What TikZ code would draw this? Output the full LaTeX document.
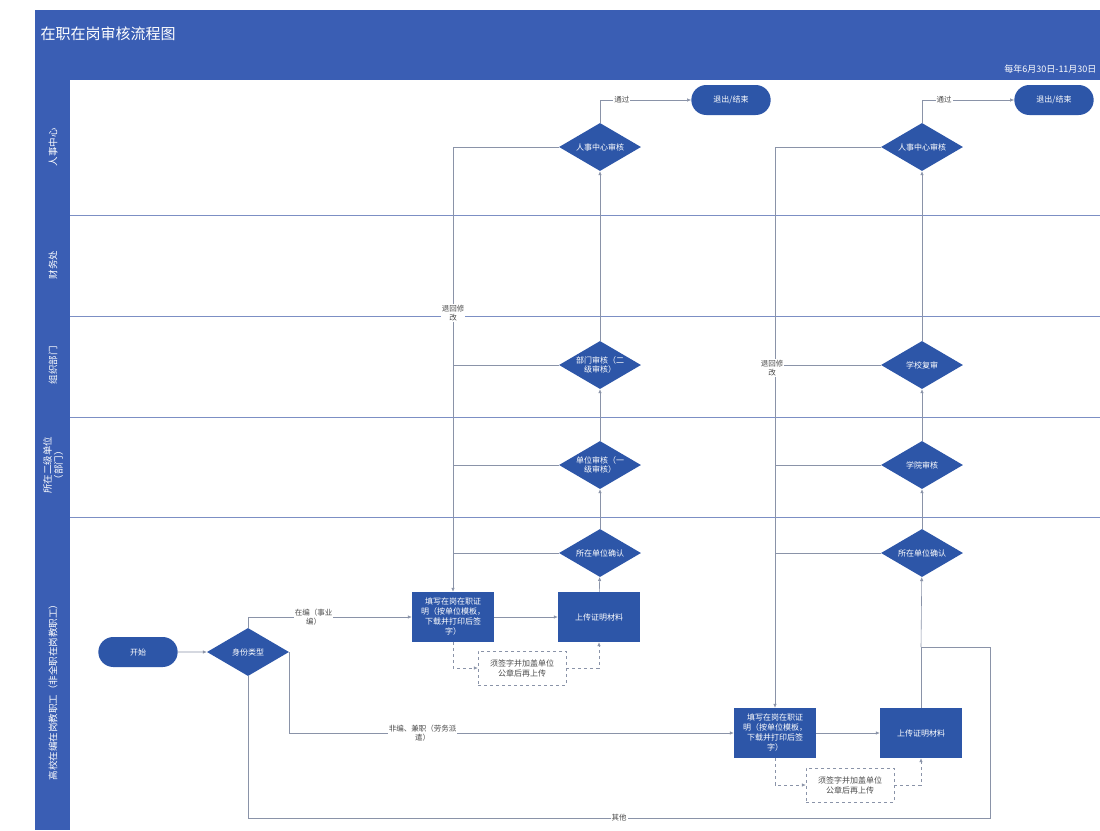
\documentclass[tikz,border=0pt]{standalone}
\usepackage{fontspec}
\setmainfont{Noto Sans CJK SC}
\usetikzlibrary{shapes.geometric,shapes.misc,arrows.meta}
\definecolor{frameblue}{HTML}{3A5EB4}
\definecolor{shapeblue}{HTML}{2D56A8}
\definecolor{laneline}{HTML}{7C8FC4}
\definecolor{connc}{HTML}{8A93A8}
\tikzset{
  dia/.style={shape=diamond, fill=shapeblue, draw=none, text=white, inner sep=0pt, aspect=1.8,
    minimum width=82pt, minimum height=48pt, align=center, font=\fontsize{8}{9.5}\selectfont},
  procbox/.style={rectangle, fill=shapeblue, text=white, minimum width=82pt, minimum height=50pt,
    align=center, inner sep=2pt, font=\fontsize{8}{10}\selectfont},
  term/.style={rounded rectangle, fill=shapeblue, text=white, minimum width=86pt, minimum height=30pt,
    font=\fontsize{8}{10}\selectfont},
  note/.style={rectangle, draw=connc, dashed, fill=white, align=center, inner sep=3pt,
    minimum width=88pt, minimum height=34pt, font=\fontsize{8}{10}\selectfont, text=black!70},
  conn/.style={draw=connc, line width=0.6pt},
  arr/.style={conn, -{Latex[length=4pt,width=3.5pt]}},
  darr/.style={arr, dashed},
  elabel/.style={fill=white, inner sep=1pt, align=center, font=\fontsize{7.5}{9}\selectfont, text=black!70},
  lanetext/.style={rotate=90, text=white, align=center, font=\fontsize{9.5}{11}\selectfont},
  laneline/.style={draw=laneline, line width=0.8pt},
}
\begin{document}
\begin{tikzpicture}[x=1pt,y=-1pt]
\useasboundingbox (0,0) rectangle (1100,830);
\fill[white] (0,0) rectangle (1100,830);
\fill[frameblue] (35,10) rectangle (1100,830);
\fill[white] (70,80) rectangle (1100,830);
\node[anchor=west, text=white, font=\fontsize{15}{17}\selectfont] (title) at (37,34) {在职在岗审核流程图};
\node[anchor=east, text=white, font=\fontsize{9}{11}\selectfont] (period) at (1100,69) {每年6月30日-11月30日};

% lane separators
\draw[laneline] (70,215) -- (1100,215);
\draw[laneline] (70,316) -- (1100,316);
\draw[laneline] (70,417) -- (1100,417);
\draw[laneline] (70,517) -- (1100,517);

% lane labels
\node[lanetext] (l1) at (53,147) {人事中心};
\node[lanetext] (l2) at (53,265) {财务处};
\node[lanetext] (l3) at (53,365) {组织部门};
\node[lanetext] (l4) at (53,465) {所在二级单位\\（部门）};
\node[lanetext] (l5) at (53,690) {高校在编在岗教职工（非全职在岗教职工）};

% column 1
\node[dia] (d1a) at (600,147) {人事中心审核};
\node[dia] (d1c) at (600,365) {部门审核（二\\级审核）};
\node[dia] (d1d) at (600,465) {单位审核（一\\级审核）};
\node[dia] (d1e) at (600,553) {所在单位确认};
\node[term] (t1) at (731,100) {退出/结束};

% column 2
\node[dia] (d2a) at (922,147) {人事中心审核};
\node[dia] (d2c) at (922,365) {学校复审};
\node[dia] (d2d) at (922,465) {学院审核};
\node[dia] (d2e) at (922,553) {所在单位确认};
\node[term] (t2) at (1054,100) {退出/结束};

% start and decision
\node[term] (start) at (138,652) {开始};
\node[dia] (dec) at (248,652) {身份类型};

% boxes
\node[procbox] (b1) at (453,617) {填写在岗在职证\\明（按单位模板，\\下载并打印后签\\字）};
\node[procbox] (b2) at (599,617) {上传证明材料};
\node[note] (n1) at (522,668) {须签字并加盖单位\\公章后再上传};
\node[procbox] (b3) at (775,733) {填写在岗在职证\\明（按单位模板，\\下载并打印后签\\字）};
\node[procbox] (b4) at (921,733) {上传证明材料};
\node[note] (n2) at (850,785) {须签字并加盖单位\\公章后再上传};

% start connectors
\draw[arr] (start) -- (dec);
\draw[arr] (dec.north) |- node[elabel, pos=0.7] {在编（事业\\编）} (b1.west);
\draw[arr] (dec.east) |- node[elabel, pos=0.65] {非编、兼职（劳务派\\遣）} (b3.west);
\coordinate (o1) at (248,818);
\coordinate (o2) at (990,818);
\coordinate (o3) at (990,647);
\coordinate (o4) at (921,647);
\draw[conn] (dec.south) -- (o1) -- node[elabel] {其他} (o2) -- (o3) -- (o4);

% column 1 flow
\draw[arr] (b1) -- (b2);
\draw[arr] (b2) -- (d1e);
\draw[arr] (d1e) -- (d1d);
\draw[arr] (d1d) -- (d1c);
\draw[arr] (d1c) -- (d1a);
\draw[arr] (d1a.north) |- node[elabel, pos=0.62] {通过} (t1.west);
\draw[arr] (d1a.west) -| (b1.north);
\draw[conn] (d1c.west) -- (d1c.west -| b1.north);
\draw[conn] (d1d.west) -- (d1d.west -| b1.north);
\draw[conn] (d1e.west) -- (d1e.west -| b1.north);
\node[elabel] (rl1) at (453,313) {退回修\\改};
\draw[darr] (b1.south) |- (n1.west);
\draw[darr] (n1.east) -| (b2.south);

% column 2 flow
\draw[arr] (b3) -- (b4);
\draw[arr] (o4) -- (d2e);
\draw[conn] (b4) -- (o4);
\draw[arr] (d2e) -- (d2d);
\draw[arr] (d2d) -- (d2c);
\draw[arr] (d2c) -- (d2a);
\draw[arr] (d2a.north) |- node[elabel, pos=0.62] {通过} (t2.west);
\draw[arr] (d2a.west) -| (b3.north);
\draw[conn] (d2c.west) -- (d2c.west -| b3.north);
\draw[conn] (d2d.west) -- (d2d.west -| b3.north);
\draw[conn] (d2e.west) -- (d2e.west -| b3.north);
\node[elabel] (rl2) at (772,368) {退回修\\改};
\draw[darr] (b3.south) |- (n2.west);
\draw[darr] (n2.east) -| (b4.south);
\end{tikzpicture}
\end{document}
